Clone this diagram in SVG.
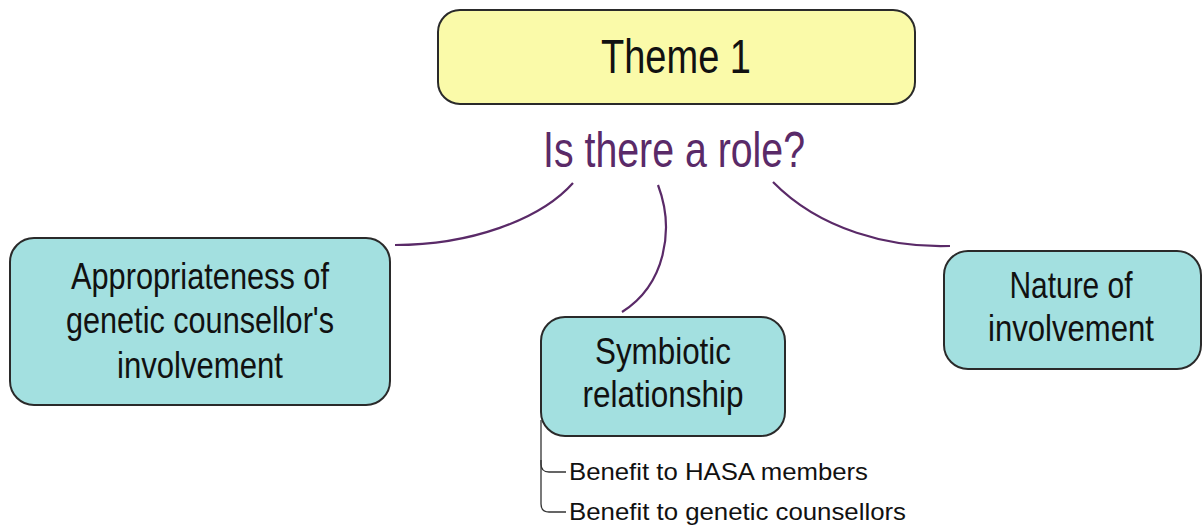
<svg xmlns="http://www.w3.org/2000/svg" width="1203" height="528" viewBox="0 0 1203 528">
<style>
.box{stroke:#2a2a2a;stroke-width:2}
.teal{fill:#a3e0e0}
.t{font-family:"Liberation Sans",Arial,sans-serif;fill:#111;text-anchor:middle}
.n{font-size:36px}
.c{fill:none;stroke:#5a2a68;stroke-width:2.2}
.s{font-family:"Liberation Sans",Arial,sans-serif;font-size:24px;fill:#111}
.b{fill:none;stroke:#333;stroke-width:1.3}
</style>
<rect width="1203" height="528" fill="#fff"/>
<g id="theme">
<rect class="box" x="438" y="10" width="477" height="94" rx="22" fill="#fafaa9"/>
<text class="t" x="676" y="73" font-size="49" textLength="150" lengthAdjust="spacingAndGlyphs">Theme 1</text>
</g>
<g id="question">
<text class="t" x="674" y="167" font-size="50" style="fill:#5a2a68" textLength="262" lengthAdjust="spacingAndGlyphs">Is there a role?</text>
</g>
<g id="connectors">
<path class="c" d="M573,183 C540,220 470,245 395,245"/>
<path class="c" d="M658,185 C675,230 665,285 622,312"/>
<path class="c" d="M773,182 C820,230 890,248 950,246"/>
<path class="b" d="M541,420 V464 Q541,472 549,472 H566"/>
<path class="b" d="M541,460 V504 Q541,512 549,512 H566"/>
</g>
<g id="appropriateness">
<rect class="box teal" x="10" y="238" width="380" height="167" rx="24"/>
<text class="t n" x="200" y="289" textLength="258" lengthAdjust="spacingAndGlyphs">Appropriateness of</text>
<text class="t n" x="200" y="333" textLength="268" lengthAdjust="spacingAndGlyphs">genetic counsellor's</text>
<text class="t n" x="200" y="378" textLength="166" lengthAdjust="spacingAndGlyphs">involvement</text>
</g>
<g id="symbiotic">
<rect class="box teal" x="541" y="317" width="244" height="119" rx="24"/>
<text class="t n" x="663" y="364" textLength="136" lengthAdjust="spacingAndGlyphs">Symbiotic</text>
<text class="t n" x="663" y="407" textLength="161" lengthAdjust="spacingAndGlyphs">relationship</text>
</g>
<g id="nature">
<rect class="box teal" x="944" y="251" width="257" height="118" rx="24"/>
<text class="t n" x="1071" y="298" textLength="123" lengthAdjust="spacingAndGlyphs">Nature of</text>
<text class="t n" x="1071" y="341" textLength="166" lengthAdjust="spacingAndGlyphs">involvement</text>
</g>
<g id="benefit-hasa">
<text class="s" x="569" y="480" textLength="299" lengthAdjust="spacingAndGlyphs">Benefit to HASA members</text>
</g>
<g id="benefit-gc">
<text class="s" x="569" y="520" textLength="337" lengthAdjust="spacingAndGlyphs">Benefit to genetic counsellors</text>
</g>
</svg>
